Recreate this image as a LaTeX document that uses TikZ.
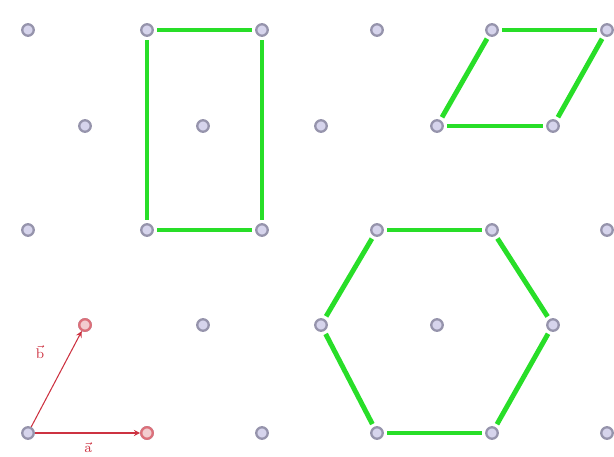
\documentclass[tikz,border=0pt]{standalone}
\usepackage{amsmath}
\definecolor{DotFill}{RGB}{214,212,236}
\definecolor{DotLine}{RGB}{150,148,172}
\definecolor{EdgeGreen}{RGB}{40,222,40}
\definecolor{VecRed}{RGB}{205,50,65}

\begin{document}
\begin{tikzpicture}[x=0.02cm,y=-0.02cm,>=stealth,
    dot/.style={circle,draw=DotLine,fill=DotFill,line width=1.3pt,inner sep=0pt,minimum size=0.23cm},
    reddot/.style={dot,draw=VecRed!70,fill=VecRed!25},
    edge/.style={EdgeGreen,line width=2.8pt,shorten >=1.8pt,shorten <=1.8pt},
    vec/.style={->,VecRed,line width=0.6pt},
    veclabel/.style={text=VecRed,font=\footnotesize,inner sep=1pt}]
  \useasboundingbox (0,0) rectangle (614,456);
  % lattice
  \foreach \r/\y in {0/30,2/230,4/433}
    \foreach \c/\x in {0/28,1/147,2/262,3/377,4/492,5/607}
      \node[dot] (p\r\c) at (\x,\y) {};
  \foreach \r/\y in {1/126,3/325}
    \foreach \c/\x in {0/85,1/203,2/321,3/437,4/553}
      \node[dot] (p\r\c) at (\x,\y) {};
  % basis vectors
  \node[reddot] (va) at (p41) {};
  \node[reddot] (vb) at (p30) {};
  \draw[vec] (p40) -- (va);
  \draw[vec] (p40) -- (vb);
  \node[veclabel] (la) at (88,447) {$\vec{\mathrm{a}}$};
  \node[veclabel] (lb) at (40,352) {$\vec{\mathrm{b}}$};
  % rectangle
  \draw[edge] (p01) -- (p02);
  \draw[edge] (p02) -- (p22);
  \draw[edge] (p22) -- (p21);
  \draw[edge] (p21) -- (p01);
  % parallelogram
  \draw[edge] (p04) -- (p05);
  \draw[edge] (p05) -- (p14);
  \draw[edge] (p14) -- (p13);
  \draw[edge] (p13) -- (p04);
  % hexagon
  \draw[edge] (p23) -- (p24);
  \draw[edge] (p24) -- (p34);
  \draw[edge] (p34) -- (p44);
  \draw[edge] (p44) -- (p43);
  \draw[edge] (p43) -- (p32);
  \draw[edge] (p32) -- (p23);
\end{tikzpicture}
\end{document}
